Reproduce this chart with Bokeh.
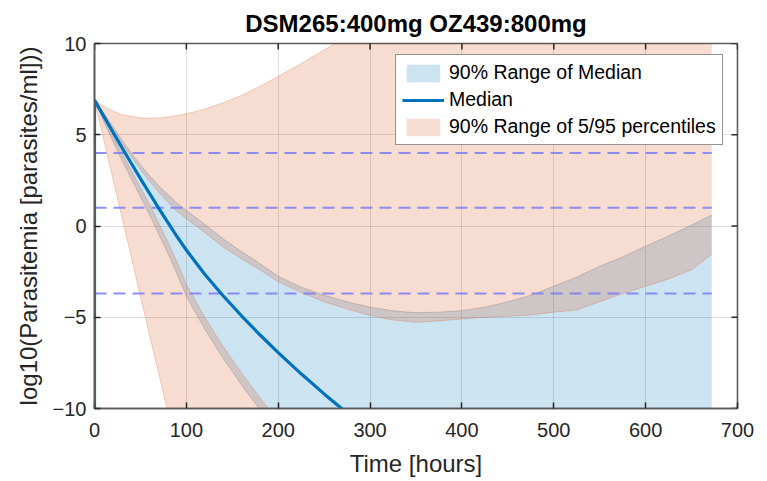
import math
from bokeh.plotting import figure
from bokeh.models import Range1d, FixedTicker, Legend, LegendItem
from bokeh.embed import file_html
from bokeh.resources import INLINE

TITLE = "DSM265:400mg OZ439:800mg"
X_LABEL = "Time [hours]"
Y_LABEL = "log10(Parasitemia [parasites/ml]))"
X_TICKS = [0, 100, 200, 300, 400, 500, 600, 700]
Y_TICKS = [-10, -5, 0, 5, 10]

TIME = [0, 10, 20, 30, 40, 50, 60, 70, 80, 90, 100, 120, 140, 160, 180, 200, 225, 250,
        275, 300, 325, 350, 375, 400, 425, 450, 475, 500, 525, 550, 575, 600, 625, 650, 672]

MEDIAN = [6.9, 6.02, 5.15, 4.29, 3.44, 2.6, 1.78, 0.97, 0.18, -0.59, -1.32, -2.64, -3.82, -4.92,
          -5.96, -6.94, -8.1, -9.2, -10.25, -11.25, -12.2, -13.1, -14.0, -14.9, -15.75, -16.6,
          -17.4, -18.2, -19.0, -19.8, -20.5, -21.2, -21.9, -22.6, -23.2]
MEDIAN_START = -12.0

MEDIAN_HI = [6.9, 6.2, 5.45, 4.7, 4.0, 3.35, 2.75, 2.2, 1.72, 1.25, 0.85, 0.1, -0.7, -1.4, -2.05,
             -2.75, -3.35, -3.8, -4.15, -4.45, -4.65, -4.75, -4.72, -4.64, -4.45, -4.15, -3.8,
             -3.3, -2.8, -2.2, -1.7, -1.1, -0.55, 0.05, 0.6]
MEDIAN_LO = [6.9, 5.75, 4.65, 3.6, 2.6, 1.6, 0.6, -0.45, -1.5, -2.65, -3.85, -5.65, -7.25, -8.7,
             -10.05, -11.3, -12.7, -14.0, -15.2, -16.3, -17.4, -18.4, -19.4, -20.3, -21.2, -22.0,
             -22.8, -23.6, -24.3, -25.0, -25.7, -26.4, -27.0, -27.6, -28.2]

P95_HI = [6.9, 6.55, 6.3, 6.1, 6.0, 5.93, 5.9, 5.92, 5.97, 6.05, 6.15, 6.4, 6.75, 7.15, 7.65,
          8.2, 8.9, 9.65, 10.4, 11.2, 12.0, 12.8, 13.6, 14.4, 15.2, 16.0, 16.8, 17.6, 18.4,
          19.2, 20.0, 20.8, 21.6, 22.4, 23.1]
P95_LO = [6.9, 6.1, 5.3, 4.5, 3.8, 3.1, 2.45, 1.85, 1.3, 0.8, 0.4, -0.35, -1.15, -1.8, -2.4,
          -3.05, -3.65, -4.15, -4.55, -4.9, -5.15, -5.28, -5.2, -5.1, -5.0, -4.95, -4.88,
          -4.72, -4.6, -4.15, -3.7, -3.3, -2.9, -2.4, -1.55]

P5_HI = [6.9, 5.95, 4.95, 4.0, 3.05, 2.1, 1.15, 0.15, -0.9, -2.0, -3.2, -5.0, -6.6, -8.05,
         -9.4, -10.7, -12.1, -13.4, -14.6, -15.7, -16.8, -17.8, -18.8, -19.7, -20.6, -21.4,
         -22.2, -23.0, -23.7, -24.4, -25.1, -25.8, -26.4, -27.0, -27.6]
P5_LO = [6.9, 4.75, 2.6, 0.45, -1.7, -3.85, -6.0, -8.1, -10.25, -12.4, -14.5, -18.5, -22.0,
         -25.0, -27.5, -29.5, -31.5, -33.0, -34.5, -35.5, -36.5, -37.5, -38.3, -39.0, -39.7,
         -40.3, -40.9, -41.4, -41.9, -42.3, -42.7, -43.1, -43.4, -43.7, -44.0]

THRESHOLDS = [4.0, 1.0, -3.7]

LEGEND_LABELS = ["90% Range of Median", "Median", "90% Range of 5/95 percentiles"]

BLUE = "#0072BD"
ORANGE = "#D95319"
AXIS_COLOR = "#262626"
FRAME_COLOR = "#5a5a5a"
FONT = "Liberation Sans"

x_range = Range1d(0, 700)
y_range = Range1d(-10, 10)

p = figure(width=767, height=481, output_backend="svg", toolbar_location=None,
           x_range=x_range, y_range=y_range,
           min_border_left=94, min_border_right=30, min_border_top=42, min_border_bottom=73,
           background_fill_color="white", border_fill_color="white")

p.title.text = TITLE
p.title.align = "center"
p.title.text_font = FONT
p.title.text_font_size = "24px"
p.title.text_font_style = "bold"
p.title.text_color = "black"
p.title.standoff = 14

# fills
blue_r = p.varea(x=TIME, y1=MEDIAN_LO, y2=MEDIAN_HI, fill_color=BLUE, fill_alpha=0.2)
p.line(TIME, MEDIAN_LO, line_color="#6a7f90", line_alpha=0.35, line_width=1)
p.line(TIME, MEDIAN_HI, line_color="#6a7f90", line_alpha=0.35, line_width=1)
orange_up = p.varea(x=TIME, y1=P95_LO, y2=P95_HI, fill_color=ORANGE, fill_alpha=0.2)
orange_lo = p.varea(x=TIME, y1=P5_LO, y2=P5_HI, fill_color=ORANGE, fill_alpha=0.2)
for arr in (P95_LO, P95_HI, P5_LO, P5_HI):
    p.line(TIME, arr, line_color=ORANGE, line_alpha=0.25, line_width=1)

# threshold lines
for thr in THRESHOLDS:
    p.line([TIME[0], TIME[-1]], [thr, thr], line_color="#7b7bf5", line_width=2,
           line_dash="12 7", line_alpha=0.85)

# median
med_r = p.line([TIME[0]] + TIME, [MEDIAN_START] + MEDIAN, line_color=BLUE, line_width=3.2)

# mirrored box ticks on top and right edges (half of each dash is clipped by the frame)
p.scatter(x=X_TICKS, y=[y_range.end] * len(X_TICKS), marker="dash", angle=math.pi / 2,
          size=12, line_color=AXIS_COLOR, line_width=1.5)
p.scatter(x=[x_range.end] * len(Y_TICKS), y=Y_TICKS, marker="dash", angle=0,
          size=12, line_color=AXIS_COLOR, line_width=1.5)

xa = p.xaxis[0]
xa.ticker = FixedTicker(ticks=X_TICKS)
ya = p.yaxis[0]
ya.ticker = FixedTicker(ticks=Y_TICKS)
for ax in (xa, ya):
    ax.axis_line_color = FRAME_COLOR
    ax.axis_line_width = 1.6
    ax.major_tick_line_color = AXIS_COLOR
    ax.major_tick_line_width = 1.5
    ax.major_tick_in = 6
    ax.major_tick_out = 0
    ax.minor_tick_in = 0
    ax.minor_tick_out = 0
    ax.major_label_text_font = FONT
    ax.major_label_text_color = AXIS_COLOR
    ax.major_label_text_font_size = "20px"
    ax.axis_label_text_font = FONT
    ax.axis_label_text_font_style = "normal"
    ax.axis_label_text_color = AXIS_COLOR
    ax.axis_label_text_font_size = "24px"
xa.axis_label = X_LABEL
ya.axis_label = Y_LABEL
xa.major_label_standoff = 14
xa.axis_label_standoff = 10
ya.major_label_standoff = 8
ya.axis_label_standoff = 8

p.xgrid.ticker = FixedTicker(ticks=X_TICKS)
p.ygrid.ticker = FixedTicker(ticks=Y_TICKS)
for g in (p.xgrid, p.ygrid):
    g.grid_line_color = AXIS_COLOR
    g.grid_line_alpha = 0.15
    g.grid_line_width = 1

p.outline_line_color = FRAME_COLOR
p.outline_line_width = 1.6

legend = Legend(items=[
    LegendItem(label=LEGEND_LABELS[0], renderers=[blue_r]),
    LegendItem(label=LEGEND_LABELS[1], renderers=[med_r]),
    LegendItem(label=LEGEND_LABELS[2], renderers=[orange_up]),
], location=(301, 263))
legend.label_text_font = FONT
legend.label_text_font_size = "19.5px"
legend.label_text_color = "black"
legend.glyph_width = 42
legend.glyph_height = 22
legend.label_height = 22
legend.label_standoff = 5
legend.spacing = 4
legend.padding = 6
legend.margin = 0
legend.border_line_color = "#262626"
legend.border_line_width = 1.2
legend.background_fill_color = "white"
legend.background_fill_alpha = 1.0
p.add_layout(legend, "center")

open("out.html", "w").write(file_html(p, INLINE))
